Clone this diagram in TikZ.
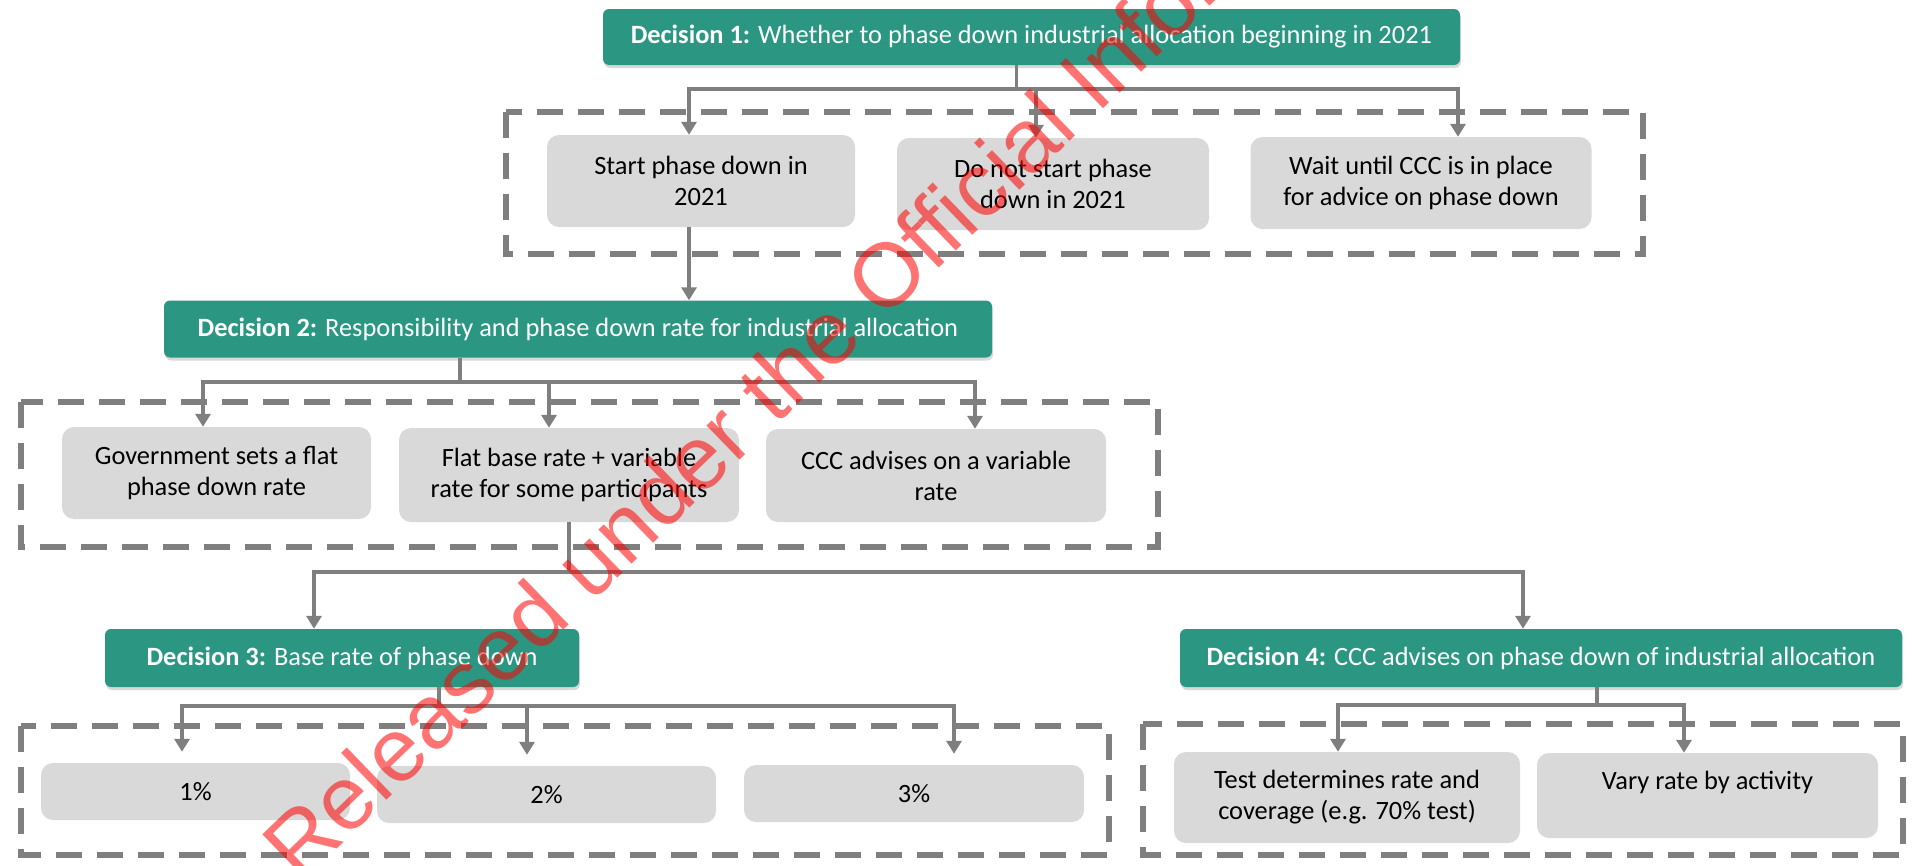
\documentclass[tikz,border=0pt]{standalone}
\usepackage{fontspec}
\setmainfont{Carlito}
\newfontfamily\wmfont{Liberation Sans}
\usepackage{tikz}
\usetikzlibrary{positioning,arrows.meta,shadows}
\usepackage{xcolor}
\definecolor{decteal}{HTML}{2B9782}
\definecolor{optgray}{HTML}{D9D9D9}
\definecolor{linegray}{HTML}{7F7F7F}

\begin{document}
\begin{tikzpicture}[x=1pt, y=-1pt,
    decision/.style={rectangle, rounded corners=6pt, fill=decteal, text=white, align=center,
        font=\fontsize{26.4}{31}\selectfont, inner sep=0pt,
        drop shadow={shadow xshift=1pt, shadow yshift=-3pt, opacity=0.3}},
    option/.style={rectangle, rounded corners=12pt, fill=optgray, text=black, align=center,
        font=\fontsize{26.4}{31}\selectfont, inner sep=0pt},
    frame/.style={draw=linegray, line width=6pt, dash pattern=on 26pt off 15pt},
    link/.style={draw=linegray, line width=3.5pt},
    arrow/.style={link, -{Triangle[width=15pt,length=13pt]}},
    watermark/.style={font=\wmfont\fontsize{90}{90}\selectfont, text=red, opacity=0.55, inner sep=0pt}]
    \useasboundingbox (0,0) rectangle (1920,865);

    % frames round the options
    \draw[frame] (506,112) rectangle (1643,254);
    \draw[frame] (21,402) rectangle (1158,547);
    \draw[frame] (21,726) rectangle (1109,855);
    \draw[frame] (1143,724) rectangle (1903,855);

    % Decision 1
    \node[decision, minimum width=857pt, minimum height=56pt] (d1) at (1031.5,37)
        {\textbf{Decision 1:} Whether to phase down industrial allocation beginning in 2021};
    \node[option, minimum width=308pt, minimum height=92pt] (o1a) at (701,181) {Start phase down in\\2021};
    \node[option, minimum width=312pt, minimum height=92pt] (o1b) at (1053,184) {Do not start phase\\down in 2021};
    \node[option, minimum width=341pt, minimum height=92pt] (o1c) at (1421,183) {Wait until CCC is in place\\for advice on phase down};
    \draw[link] ([xshift=-15pt]d1.south) -- ++(0,24) coordinate (b1);
    \draw[arrow] (b1) -| ([xshift=-12pt]o1a.north);
    \draw[arrow] (b1) -| ([xshift=37pt]o1c.north);
    \draw[arrow] ([xshift=-17pt]o1b.north |- b1) -- ([xshift=-17pt]o1b.north);

    % Decision 2
    \node[decision, minimum width=828pt, minimum height=57pt] (d2) at (578,329)
        {\textbf{Decision 2:} Responsibility and phase down rate for industrial allocation};
    \draw[arrow] ([xshift=-12pt]o1a.south) -- ([xshift=-12pt]o1a.south |- d2.north);
    \node[option, minimum width=309pt, minimum height=92pt] (o2a) at (216.5,473) {Government sets a flat\\phase down rate};
    \node[option, minimum width=340pt, minimum height=94pt] (o2b) at (569,475) {Flat base rate + variable\\rate for some participants};
    \node[option, minimum width=340pt, minimum height=93pt] (o2c) at (936,475.5) {CCC advises on a variable\\rate};
    \draw[link] ([xshift=-118pt]d2.south) -- ++(0,24.5) coordinate (b2);
    \draw[arrow] (b2) -| ([xshift=-13.5pt]o2a.north);
    \draw[arrow] (b2) -| ([xshift=39pt]o2c.north);
    \draw[arrow] ([xshift=-20pt]o2b.north |- b2) -- ([xshift=-20pt]o2b.north);

    % Decision 3 and 4
    \node[decision, minimum width=474pt, minimum height=58pt] (d3) at (342,658)
        {\textbf{Decision 3:} Base rate of phase down};
    \node[decision, minimum width=722pt, minimum height=58pt] (d4) at (1541,658)
        {\textbf{Decision 4:} CCC advises on phase down of industrial allocation};
    \draw[link] (o2b.south) -- ++(0,50) coordinate (b23);
    \draw[arrow] (b23) -| ([xshift=-28pt]d3.north);
    \draw[arrow] (b23) -| ([xshift=-18pt]d4.north);

    % options of Decision 3
    \node[option, minimum width=309pt, minimum height=57pt] (o3a) at (195.5,791.5) {1\%};
    \node[option, minimum width=339pt, minimum height=57pt] (o3b) at (546.5,794.5) {2\%};
    \node[option, minimum width=340pt, minimum height=57pt] (o3c) at (914,793.5) {3\%};
    \draw[link] ([xshift=97pt]d3.south) -- ++(0,19) coordinate (b3);
    \draw[arrow, shorten >=11pt] (b3) -| ([xshift=-13.5pt]o3a.north);
    \draw[arrow, shorten >=11pt] (b3) -| ([xshift=40pt]o3c.north);
    \draw[arrow, shorten >=11pt] ([xshift=-19.5pt]o3b.north |- b3) -- ([xshift=-19.5pt]o3b.north);

    % options of Decision 4
    \node[option, minimum width=346pt, minimum height=91pt] (o4a) at (1347,797.5) {Test determines rate and\\coverage (e.g. 70\% test)};
    \node[option, minimum width=341pt, minimum height=85pt] (o4b) at (1707.5,795.5) {Vary rate by activity\\\mbox{}};
    \draw[link] ([xshift=56pt]d4.south) -- ++(0,18) coordinate (b4);
    \draw[arrow] (b4) -| ([xshift=-9pt]o4a.north);
    \draw[arrow] (b4) -| ([xshift=-23.5pt]o4b.north);

    % watermark
    \begin{scope}
        \clip (0,0) rectangle (1920,865);
        \node[watermark, rotate=44, anchor=base west] (wm) at (300,885) {Released under the Official Information Act};
    \end{scope}
\end{tikzpicture}
\end{document}
